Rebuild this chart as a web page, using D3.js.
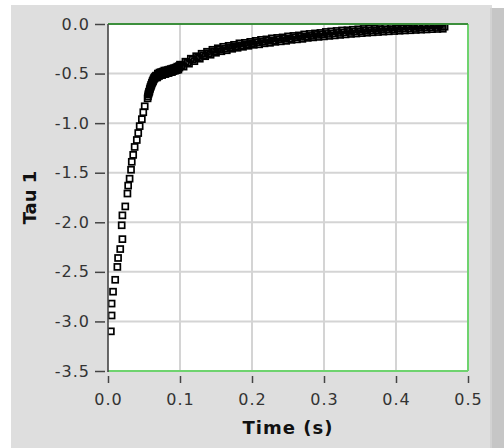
<!DOCTYPE html>
<html>
<head>
<meta charset="utf-8">
<script src="https://cdn.jsdelivr.net/npm/d3@7"></script>
<style>
  body { margin: 0; background: #fff; }
  .tick text { font-family: "DejaVu Sans", sans-serif; font-size: 16px; fill: #333; letter-spacing: 1px; }
  .tick line { stroke: #444; stroke-width: 1.5; }
  .axisTitle { font-family: "DejaVu Sans", sans-serif; font-size: 18px; font-weight: bold; fill: #111; }
</style>
</head>
<body>
<div id="chart"></div>
<script>
// Tau 1 against time: [time (s), tau]
// steep rise, squares still separate
var risePoints = [
  [0.004,-3.10],[0.005,-2.94],[0.005,-2.82],[0.007,-2.70],[0.010,-2.58],[0.013,-2.45],
  [0.014,-2.36],[0.017,-2.27],[0.020,-2.17],[0.019,-2.03],[0.020,-1.93],[0.024,-1.84],
  [0.027,-1.71],[0.028,-1.63],[0.030,-1.56],[0.032,-1.47],[0.033,-1.39],[0.035,-1.32],
  [0.037,-1.24],[0.040,-1.17],[0.042,-1.10],[0.044,-1.03],[0.047,-0.96],[0.049,-0.89],
  [0.051,-0.83],[0.055,-0.75]
];
// knee, squares overlap
var kneePoints = [
  [0.0555,-0.73],[0.0560,-0.71],[0.0565,-0.70],[0.0570,-0.685],[0.0575,-0.68],[0.0580,-0.66],
  [0.0585,-0.65],[0.0590,-0.635],[0.0595,-0.63],[0.0600,-0.615],[0.0605,-0.61],[0.0610,-0.595],
  [0.0615,-0.59],[0.0620,-0.575],[0.0625,-0.58],[0.0630,-0.56],[0.0635,-0.56],[0.0640,-0.545],
  [0.0645,-0.55],[0.0650,-0.535],[0.0655,-0.54],[0.0662,-0.525],[0.0670,-0.52],[0.0678,-0.54],
  [0.0685,-0.535],[0.0692,-0.50],[0.0700,-0.51],[0.0708,-0.525],[0.0715,-0.49],[0.0722,-0.505],
  [0.0730,-0.515],[0.0738,-0.485],[0.0745,-0.50],[0.0752,-0.515],[0.0760,-0.48],[0.0768,-0.495],
  [0.0775,-0.505],[0.0782,-0.47],[0.0790,-0.49],[0.0798,-0.505],[0.0805,-0.47],[0.0812,-0.485],
  [0.0820,-0.495],[0.0828,-0.465],[0.0835,-0.48],[0.0842,-0.495],[0.0850,-0.46],[0.0858,-0.475],
  [0.0865,-0.485],[0.0872,-0.455],[0.0880,-0.47],[0.0888,-0.485],[0.0895,-0.45],[0.0902,-0.465],
  [0.0910,-0.475],[0.0918,-0.445],[0.0925,-0.46],[0.0932,-0.47],[0.0940,-0.44],[0.0948,-0.455],
  [0.0955,-0.465],[0.0962,-0.43],[0.0970,-0.45],[0.0978,-0.46],[0.0985,-0.425],[0.0992,-0.44]
];
// slow tail, a solid black band
var tailPoints = [
  [0.1000,-0.41],[0.1025,-0.42],[0.1050,-0.43],[0.1075,-0.38],[0.1100,-0.39],[0.1125,-0.40],
  [0.1150,-0.35],[0.1175,-0.36],[0.1200,-0.375],[0.1225,-0.325],[0.1250,-0.34],[0.1275,-0.35],
  [0.1300,-0.30],[0.1325,-0.315],[0.1350,-0.325],[0.1375,-0.28],[0.1400,-0.295],[0.1425,-0.31],
  [0.1450,-0.26],[0.1475,-0.275],[0.1500,-0.29],[0.1525,-0.245],[0.1550,-0.26],[0.1575,-0.275],
  [0.1600,-0.23],[0.1625,-0.25],[0.1650,-0.265],[0.1675,-0.22],[0.1700,-0.235],[0.1725,-0.25],
  [0.1750,-0.21],[0.1775,-0.225],[0.1800,-0.24],[0.1825,-0.195],[0.1850,-0.215],[0.1875,-0.23],
  [0.1900,-0.19],[0.1925,-0.205],[0.1950,-0.22],[0.1975,-0.18],[0.2000,-0.195],[0.2025,-0.21],
  [0.2050,-0.17],[0.2075,-0.185],[0.2100,-0.205],[0.2125,-0.16],[0.2150,-0.18],[0.2175,-0.195],
  [0.2200,-0.155],[0.2225,-0.17],[0.2250,-0.19],[0.2275,-0.145],[0.2300,-0.165],[0.2325,-0.18],
  [0.2350,-0.14],[0.2375,-0.155],[0.2400,-0.175],[0.2425,-0.135],[0.2450,-0.15],[0.2475,-0.17],
  [0.2500,-0.125],[0.2525,-0.145],[0.2550,-0.16],[0.2575,-0.12],[0.2600,-0.135],[0.2625,-0.155],
  [0.2650,-0.115],[0.2675,-0.13],[0.2700,-0.15],[0.2725,-0.105],[0.2750,-0.125],[0.2775,-0.14],
  [0.2800,-0.10],[0.2825,-0.12],[0.2850,-0.135],[0.2875,-0.095],[0.2900,-0.11],[0.2925,-0.13],
  [0.2950,-0.09],[0.2975,-0.105],[0.3000,-0.125],[0.3025,-0.08],[0.3050,-0.10],[0.3075,-0.12],
  [0.3100,-0.075],[0.3125,-0.095],[0.3150,-0.115],[0.3175,-0.07],[0.3200,-0.09],[0.3225,-0.11],
  [0.3250,-0.065],[0.3275,-0.085],[0.3300,-0.105],[0.3325,-0.063],[0.3350,-0.08],[0.3375,-0.10],
  [0.3400,-0.058],[0.3425,-0.077],[0.3450,-0.096],[0.3475,-0.054],[0.3500,-0.073],[0.3525,-0.092],
  [0.3550,-0.05],[0.3575,-0.069],[0.3600,-0.088],[0.3625,-0.047],[0.3650,-0.066],[0.3675,-0.084],
  [0.3700,-0.043],[0.3725,-0.062],[0.3750,-0.081],[0.3775,-0.04],[0.3800,-0.058],[0.3825,-0.077],
  [0.3850,-0.036],[0.3875,-0.055],[0.3900,-0.074],[0.3925,-0.033],[0.3950,-0.052],[0.3975,-0.071],
  [0.4000,-0.03],[0.4025,-0.049],[0.4050,-0.068],[0.4075,-0.027],[0.4100,-0.046],[0.4125,-0.065],
  [0.4150,-0.025],[0.4175,-0.044],[0.4200,-0.063],[0.4225,-0.022],[0.4250,-0.041],[0.4275,-0.06],
  [0.4300,-0.019],[0.4325,-0.038],[0.4350,-0.057],[0.4375,-0.017],[0.4400,-0.036],[0.4425,-0.055],
  [0.4450,-0.014],[0.4475,-0.033],[0.4500,-0.052],[0.4525,-0.011],[0.4550,-0.031],[0.4575,-0.05],
  [0.4600,-0.009],[0.4625,-0.028],[0.4650,-0.048],[0.4675,-0.027]
];

var xTicks = [0, 0.1, 0.2, 0.3, 0.4, 0.5];
var yTicks = [0, -0.5, -1.0, -1.5, -2.0, -2.5, -3.0, -3.5];
var xTitle = "Time (s)";
var yTitle = "Tau 1";

var svgWidth = 504;
var svgHeight = 448;
var margin = { top: 24, right: 36, bottom: 77, left: 108 };
var width = svgWidth - margin.left - margin.right;
var height = svgHeight - margin.top - margin.bottom;

var svg = d3.select("#chart")
  .append("svg")
  .attr("width", svgWidth)
  .attr("height", svgHeight);

// LabVIEW style grey panel with a darker strip on the right
svg.append("rect")
  .attr("x", 11).attr("y", 5)
  .attr("width", 481).attr("height", svgHeight - 5)
  .attr("fill", "#dedede");
svg.append("rect")
  .attr("x", 491).attr("y", 8)
  .attr("width", 13).attr("height", svgHeight - 8)
  .attr("fill", "#c6c6c6");
svg.append("rect")
  .attr("x", 490).attr("y", 8)
  .attr("width", 2).attr("height", svgHeight - 8)
  .attr("fill", "#d2d2d2");

var chartGroup = svg.append("g")
  .attr("transform", `translate(${margin.left}, ${margin.top})`);

var xScale = d3.scaleLinear().domain([0, 0.5]).range([0, width]);
var yScale = d3.scaleLinear().domain([-3.5, 0]).range([height, 0]);

chartGroup.append("rect")
  .attr("width", width)
  .attr("height", height)
  .attr("fill", "#fff");

// grid
chartGroup.append("g")
  .selectAll("line")
  .data(xTicks.slice(1, -1))
  .enter()
  .append("line")
  .attr("x1", d => xScale(d)).attr("x2", d => xScale(d))
  .attr("y1", 0).attr("y2", height)
  .attr("stroke", "#d4d4d4")
  .attr("stroke-width", 2);

chartGroup.append("g")
  .selectAll("line")
  .data(yTicks.slice(1, -1))
  .enter()
  .append("line")
  .attr("x1", 0).attr("x2", width)
  .attr("y1", d => yScale(d)).attr("y2", d => yScale(d))
  .attr("stroke", "#d4d4d4")
  .attr("stroke-width", 2);

// axes
var bottomAxis = d3.axisBottom(xScale)
  .tickValues(xTicks)
  .tickFormat(d3.format(".1f"))
  .tickSize(7)
  .tickPadding(11);
var leftAxis = d3.axisLeft(yScale)
  .tickValues(yTicks)
  .tickFormat(d3.format(".1f"))
  .tickSize(10)
  .tickPadding(5);

var xAxisG = chartGroup.append("g")
  .attr("transform", `translate(0, ${height + 5})`)
  .call(bottomAxis);
xAxisG.select(".domain").remove();

var yAxisG = chartGroup.append("g")
  .attr("transform", "translate(-3, 0)")
  .call(leftAxis);
yAxisG.select(".domain").remove();
yAxisG.selectAll(".tick text").text(d => d3.format(".1f")(d).replace("−", "-"));
xAxisG.attr("font-size", null).attr("font-family", null);
yAxisG.attr("font-size", null).attr("font-family", null);

// markers, clipped to the plot area
chartGroup.append("clipPath")
  .attr("id", "plotClip")
  .append("rect")
  .attr("width", width)
  .attr("height", height);

var tauPoints = risePoints.concat(kneePoints, tailPoints);

chartGroup.append("g")
  .attr("clip-path", "url(#plotClip)")
  .selectAll("rect")
  .data(tauPoints)
  .enter()
  .append("rect")
  .attr("x", d => xScale(d[0]) - 3)
  .attr("y", d => yScale(d[1]) - 3)
  .attr("width", 6)
  .attr("height", 6)
  .attr("fill", "none")
  .attr("stroke", "#000")
  .attr("stroke-width", 1.7);

// frame
chartGroup.append("line")
  .attr("x1", 0).attr("x2", width).attr("y1", height).attr("y2", height)
  .attr("stroke", "#6fd36f").attr("stroke-width", 2);
chartGroup.append("line")
  .attr("x1", width).attr("x2", width).attr("y1", 0).attr("y2", height)
  .attr("stroke", "#6fd36f").attr("stroke-width", 2);
chartGroup.append("line")
  .attr("x1", 0).attr("x2", width).attr("y1", 0).attr("y2", 0)
  .attr("stroke", "#3c8f3c").attr("stroke-width", 2);
chartGroup.append("line")
  .attr("x1", 0).attr("x2", 0).attr("y1", 0).attr("y2", height + 1)
  .attr("stroke", "#444").attr("stroke-width", 1.6);

// axis titles
svg.append("text")
  .attr("class", "axisTitle")
  .attr("x", margin.left + width / 2)
  .attr("y", 428)
  .attr("dy", "0.35em")
  .attr("text-anchor", "middle")
  .style("letter-spacing", "1px")
  .text(xTitle);

svg.append("text")
  .attr("class", "axisTitle")
  .attr("transform", `translate(30, ${margin.top + height / 2}) rotate(-90)`)
  .attr("dy", "0.35em")
  .attr("text-anchor", "middle")
  .text(yTitle);
</script>
</body>
</html>
